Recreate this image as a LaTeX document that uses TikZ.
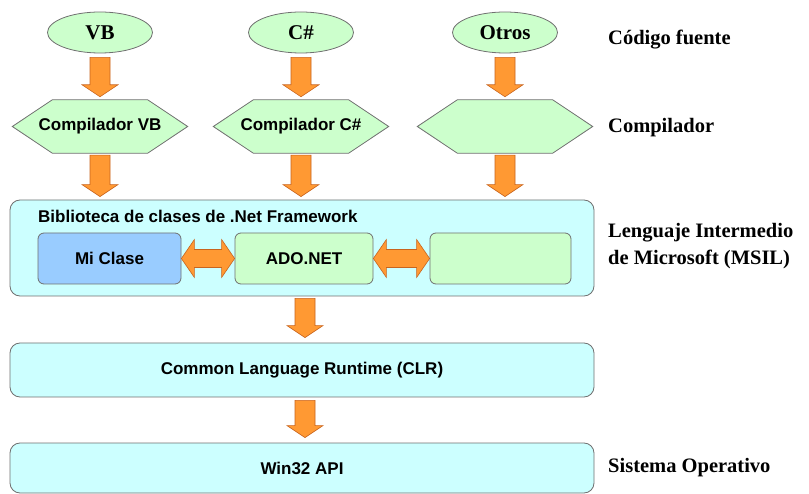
\documentclass[tikz,border=0pt]{standalone}
\usepackage{fontspec}
\setmainfont{Liberation Serif}
\newfontfamily\arialf{Liberation Sans}
\usetikzlibrary{shapes.geometric,calc,backgrounds}
\definecolor{greenfill}{HTML}{CCFFCC}
\definecolor{cyanfill}{HTML}{CCFFFF}
\definecolor{bluefill}{HTML}{99CCFF}
\definecolor{orangefill}{HTML}{FF9933}
\definecolor{orangeline}{HTML}{C8641E}
\definecolor{bordergray}{HTML}{707070}
\newcommand{\downblock}[2]{%
  \path[blockarrow] ($(#1)+(-10,0)$) -- ($(#1)+(10,0)$) -- ($(#2)+(10,-12)$) -- ($(#2)+(18,-12)$) -- (#2)
    -- ($(#2)+(-18,-12)$) -- ($(#2)+(-10,-12)$) -- cycle;}
\newcommand{\hdouble}[2]{%
  \path[blockarrow] (#1) -- ($(#1)+(13,-19)$) -- ($(#1)+(13,-9)$) -- ($(#2)+(-13,-9)$) -- ($(#2)+(-13,-19)$) -- (#2)
    -- ($(#2)+(-13,19)$) -- ($(#2)+(-13,9)$) -- ($(#1)+(13,9)$) -- ($(#1)+(13,19)$) -- cycle;}
\begin{document}
\begin{tikzpicture}[x=1pt,y=-1pt,
  srctext/.style={font=\fontsize{20.5}{27}\selectfont\bfseries},
  sanstext/.style={font=\arialf\fontsize{17}{19}\selectfont\bfseries},
  srcnode/.style={ellipse, draw=bordergray, fill=greenfill, line width=0.8pt, minimum width=105pt, minimum height=41pt, inner sep=0pt, font=\fontsize{21}{24}\selectfont\bfseries},
  hexnode/.style={minimum width=175pt, minimum height=53pt, inner sep=0pt, sanstext},
  hexshape/.style={draw=bordergray, fill=greenfill, line width=0.8pt},
  layerbox/.style={draw=bordergray, fill=cyanfill, line width=0.8pt, rounded corners=10pt, inner sep=0pt, sanstext},
  classbox/.style={draw=bordergray, line width=0.8pt, rounded corners=6pt, inner sep=0pt, minimum height=51pt, sanstext},
  sidelabel/.style={anchor=west, srctext, align=left, inner sep=0pt},
  blockarrow/.style={draw=orangeline, fill=orangefill, line width=0.6pt, line join=miter}
]
\useasboundingbox (0,0) rectangle (809,494);

% source ellipses
\node[srcnode] (v1) at (100,32.5) {VB};
\node[srcnode] (v2) at (301,32.5) {C\#};
\node[srcnode] (v3) at (505,32.5) {Otros};

% compilers (hexagons)
\node[hexnode] (h1) at (100,126.5) {Compilador VB};
\node[hexnode] (h2) at (301,126.5) {Compilador C\#};
\node[hexnode] (h3) at (505,126.5) {};
\begin{scope}[on background layer]
\fill[white] (0,0) rectangle (809,494);
\foreach \h in {h1,h2,h3}{
  \path[hexshape] (\h.west) -- ($(\h.north west)+(40,0)$) -- ($(\h.north east)+(-40,0)$) -- (\h.east)
    -- ($(\h.south east)+(-40,0)$) -- ($(\h.south west)+(40,0)$) -- cycle;
}
\end{scope}

% framework layer
\node[layerbox, minimum width=584pt, minimum height=96pt] (fw) at (302,248) {};
\node[sanstext, anchor=west, inner sep=0pt] (fwt) at (38,216) {Biblioteca de clases de .Net Framework};
\node[classbox, fill=bluefill, minimum width=143pt] (mc) at (109.5,258.5) {Mi Clase};
\node[classbox, fill=greenfill, minimum width=138pt] (ado) at (304,258.5) {ADO.NET};
\node[classbox, fill=greenfill, minimum width=141pt] (oth) at (500.5,258.5) {};

% CLR and Win32
\node[layerbox, minimum width=584pt, minimum height=54pt] (clr) at (302,370) {Common Language Runtime (CLR)};
\node[layerbox, minimum width=584pt, minimum height=50pt] (win) at (302,468) {Win32 API};

% side labels
\node[sidelabel] (l1) at (608,40) {Código fuente};
\node[sidelabel] (l2) at (608,128) {Compilador};
\node[sidelabel] (l3) at (608,246.5) {Lenguaje Intermedio\\de Microsoft (MSIL)};
\node[sidelabel] (l4) at (608,468) {Sistema Operativo};

% arrows: sources -> compilers -> framework
\foreach \i in {1,2,3}{
  \coordinate (a\i s) at ($(v\i.south)+(0,4)$);
  \coordinate (a\i e) at ($(h\i.north)+(0,-3)$);
  \downblock{a\i s}{a\i e}
  \coordinate (b\i s) at ($(h\i.south)+(0,2)$);
  \coordinate (b\i e) at ($(h\i.south |- fw.north)+(0,-3)$);
  \downblock{b\i s}{b\i e}
}
% framework -> CLR -> Win32
\coordinate (c1s) at ($(fw.south)+(3,2)$);
\coordinate (c1e) at ($(clr.north)+(3,-5)$);
\downblock{c1s}{c1e}
\coordinate (c2s) at ($(clr.south)+(3,3)$);
\coordinate (c2e) at ($(win.north)+(3,-5)$);
\downblock{c2s}{c2e}

% double arrows between classes
\hdouble{mc.east}{ado.west}
\hdouble{ado.east}{oth.west}
\end{tikzpicture}
\end{document}
